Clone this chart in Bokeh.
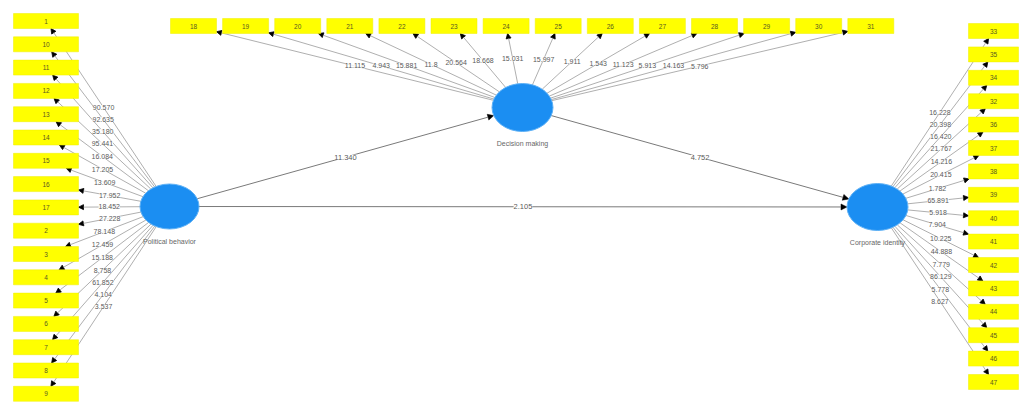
import numpy as np
from bokeh.plotting import figure
from bokeh.models import ColumnDataSource, Range1d, Arrow, NormalHead, LabelSet
from bokeh.embed import file_html
from bokeh.resources import INLINE
from bokeh.core.properties import value

# ---------------- data ----------------
constructs = ["Political behavior", "Decision making", "Corporate identity"]

left_items = ["1", "10", "11", "12", "13", "14", "15", "16", "17", "2", "3", "4", "5", "6", "7", "8", "9"]
left_loadings = ["90.570", "92.635", "35.180", "95.441", "16.084", "17.205", "13.609", "17.952", "18.452",
                 "27.228", "78.148", "12.459", "15.188", "8.758", "61.852", "4.104", "3.537"]

top_items = ["18", "19", "20", "21", "22", "23", "24", "25", "26", "27", "28", "29", "30", "31"]
top_loadings = ["11.115", "4.943", "15.881", "11.8", "20.564", "18.668", "15.031", "15.997", "1.911",
                "1.543", "11.123", "5.913", "14.163", "5.796"]

right_items = ["33", "35", "34", "32", "36", "37", "38", "39", "40", "41", "42", "43", "44", "45", "46", "47"]
right_loadings = ["16.228", "20.398", "16.420", "21.767", "14.216", "20.415", "1.782", "65.891", "5.918",
                  "7.904", "10.225", "44.888", "7.779", "86.129", "5.778", "8.627"]

path_from = ["Political behavior", "Decision making", "Political behavior"]
path_to = ["Decision making", "Corporate identity", "Corporate identity"]
path_values = ["11.340", "4.752", "2.105"]

# ---------------- layout (pixel space) ----------------
W, H = 1029, 402
centers = {"Political behavior": (169.0, 206.0), "Decision making": (522.0, 107.0), "Corporate identity": (877.0, 206.5)}
radii = {"Political behavior": (29.5, 22.5), "Decision making": (30.5, 24.0), "Corporate identity": (30.5, 23.5)}

BOX_FILL = "#ffff00"
LINE_C = "#9a9a9a"
TXT_C = "#5a5a5a"
FONT = value("Liberation Sans")

p = figure(width=W, height=H, output_backend="svg", toolbar_location=None,
           x_range=Range1d(0, W), y_range=Range1d(H, 0),
           min_border=0, outline_line_color=None)
p.axis.visible = False
p.grid.visible = False
p.background_fill_color = "white"


def ellipse_edge(c, r, toward):
    dx, dy = toward[0] - c[0], toward[1] - c[1]
    n = np.hypot(dx, dy)
    ux, uy = dx / n, dy / n
    t = 1.0 / np.sqrt((ux / r[0]) ** 2 + (uy / r[1]) ** 2)
    return c[0] + ux * t, c[1] + uy * t


def box_edge(b, hw, hh, frm):
    dx, dy = frm[0] - b[0], frm[1] - b[1]
    s = min(hw / abs(dx) if dx else 1e9, hh / abs(dy) if dy else 1e9)
    return b[0] + dx * s, b[1] + dy * s


groups = [
    ("Political behavior", left_items, left_loadings,
     [45.5] * len(left_items), [20.5 + i * 23.3 for i in range(len(left_items))], 65, 15),
    ("Decision making", top_items, top_loadings,
     [193.0 + i * 52.1 for i in range(len(top_items))], [25.5] * len(top_items), 46, 15),
    ("Corporate identity", right_items, right_loadings,
     [993.0] * len(right_items), [30.5 + i * 23.4 for i in range(len(right_items))], 50, 15),
]

bx, by, bw, bh, blab = [], [], [], [], []
xs0, ys0, xs1, ys1 = [], [], [], []
lx, ly, ltxt = [], [], []
for cname, items, loads, xs, ys, w, h in groups:
    c = centers[cname]
    r = radii[cname]
    for it, ld, x, y in zip(items, loads, xs, ys):
        bx.append(x); by.append(y); bw.append(w); bh.append(h); blab.append(it)
        ex, ey = box_edge((x, y), w / 2, h / 2, c)
        sx, sy = ellipse_edge(c, r, (x, y))
        xs0.append(sx); ys0.append(sy); xs1.append(ex); ys1.append(ey)
        lx.append((sx + ex) / 2); ly.append((sy + ey) / 2); ltxt.append(ld)

# indicator lines + arrowheads
ind_src = ColumnDataSource(dict(x0=xs0, y0=ys0, x1=xs1, y1=ys1))
p.add_layout(Arrow(source=ind_src, x_start="x0", y_start="y0", x_end="x1", y_end="y1",
                   line_color=LINE_C, line_width=0.8, level="underlay",
                   end=NormalHead(size=5, fill_color="black", line_color="black", line_width=0.8)))

# structural paths
px0, py0, px1, py1, plx, ply = [], [], [], [], [], []
for f, t in zip(path_from, path_to):
    cf, ct = centers[f], centers[t]
    ex, ey = ellipse_edge(ct, radii[t], cf)
    sx, sy = ellipse_edge(cf, radii[f], ct)
    px0.append(sx); py0.append(sy); px1.append(ex); py1.append(ey)
    plx.append((sx + ex) / 2); ply.append((sy + ey) / 2)
path_src = ColumnDataSource(dict(x0=px0, y0=py0, x1=px1, y1=py1))
p.add_layout(Arrow(source=path_src, x_start="x0", y_start="y0", x_end="x1", y_end="y1",
                   line_color="#7a7a7a", line_width=1.0, level="underlay",
                   end=NormalHead(size=6, fill_color="black", line_color="black", line_width=0.5)))

# indicator boxes
box_src = ColumnDataSource(dict(x=bx, y=by, w=bw, h=bh, t=blab))
p.rect(x="x", y="y", width="w", height="h", source=box_src, fill_color=BOX_FILL,
       line_color="#eeee00", line_width=0.5)
p.add_layout(LabelSet(x="x", y="y", text="t", source=box_src, text_align="center",
                      text_baseline="middle", text_font=FONT, text_font_size="6.5px",
                      text_color="#5a5a20"))

# constructs
cx = [centers[c][0] for c in constructs]
cy = [centers[c][1] for c in constructs]
cw = [2 * radii[c][0] for c in constructs]
ch = [2 * radii[c][1] for c in constructs]
cty = [centers[c][1] + radii[c][1] + 12 for c in constructs]
con_src = ColumnDataSource(dict(x=cx, y=cy, w=cw, h=ch, ty=cty, t=constructs))
p.ellipse(x="x", y="y", width="w", height="h", source=con_src, fill_color="#1b8ef2",
          line_color="#5db0f5", line_width=1)
p.add_layout(LabelSet(x="x", y="ty", text="t", source=con_src, text_align="center",
                      text_baseline="middle", text_font=FONT, text_font_size="7px",
                      text_color="#666666"))

# loading labels
ld_src = ColumnDataSource(dict(x=lx, y=ly, t=ltxt))
p.add_layout(LabelSet(x="x", y="y", text="t", source=ld_src, text_align="center",
                      text_baseline="middle", text_font=FONT, text_font_size="7px",
                      text_color=TXT_C, background_fill_color="white", background_fill_alpha=0.8))

# path labels
pl_src = ColumnDataSource(dict(x=plx, y=ply, t=path_values))
p.add_layout(LabelSet(x="x", y="y", text="t", source=pl_src, text_align="center",
                      text_baseline="middle", text_font=FONT, text_font_size="7.5px",
                      text_color=TXT_C, background_fill_color="white", background_fill_alpha=1.0))

open("out.html", "w").write(file_html(p, INLINE))
